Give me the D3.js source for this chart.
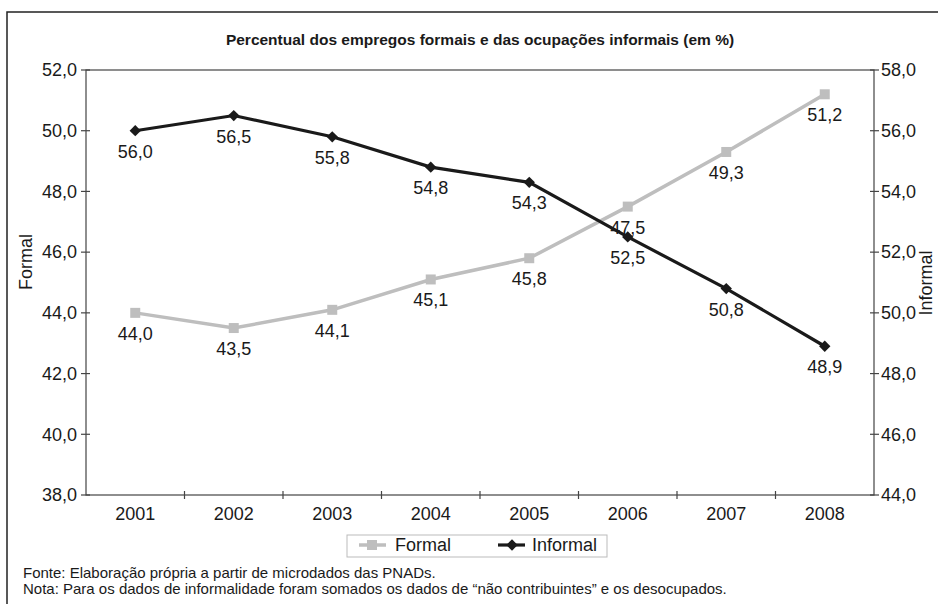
<!DOCTYPE html>
<html>
<head>
<meta charset="utf-8">
<script src="https://cdn.jsdelivr.net/npm/d3@7"></script>
<style>
  body { margin: 0; background: #fff; }
  svg text { font-family: "Liberation Sans", Arial, sans-serif; fill: #1a1a1a; }
</style>
</head>
<body>
<svg id="canvas" width="938" height="604"></svg>
<script>
const width = 938;
const height = 604;

// data
const years = ["2001", "2002", "2003", "2004", "2005", "2006", "2007", "2008"];
const formal = [44.0, 43.5, 44.1, 45.1, 45.8, 47.5, 49.3, 51.2];
const informal = [56.0, 56.5, 55.8, 54.8, 54.3, 52.5, 50.8, 48.9];
const leftTicks = [38, 40, 42, 44, 46, 48, 50, 52];
const rightTicks = [44, 46, 48, 50, 52, 54, 56, 58];

const title = "Percentual dos empregos formais e das ocupações informais (em %)";
const notes = [
    "Fonte: Elaboração própria a partir de microdados das PNADs.",
    "Nota: Para os dados de informalidade foram somados os dados de “não contribuintes” e os desocupados."
];

const svg = d3.select("#canvas");

const plotL = 86, plotR = 874, plotT = 70, plotB = 495;

const x = d3.scaleBand().domain(years).range([plotL, plotR]);
const yL = d3.scaleLinear().domain([38, 52]).range([plotB, plotT]);
const yR = d3.scaleLinear().domain([44, 58]).range([plotB, plotT]);
const cx = d => x(d) + x.bandwidth() / 2;
const fmt = v => d3.format(".1f")(v).replace(".", ",");

const grey = "#bebebe";
const dark = "#1a1a1a";

// outer frame
svg.append("rect")
    .attr("x", 7).attr("y", 12)
    .attr("width", 960).attr("height", 620)
    .attr("fill", "none")
    .attr("stroke", "#222")
    .attr("stroke-width", 1.5);

// title
svg.append("text")
    .attr("x", 480).attr("y", 45)
    .attr("text-anchor", "middle")
    .attr("font-size", 15.5)
    .attr("font-weight", "bold")
    .text(title);

// plot frame
svg.append("rect")
    .attr("x", plotL).attr("y", plotT)
    .attr("width", plotR - plotL).attr("height", plotB - plotT)
    .attr("fill", "none")
    .attr("stroke", "#444")
    .attr("stroke-width", 1.2);

// left axis ticks
svg.selectAll(".lt").data(leftTicks).enter()
    .append("line")
    .attr("x1", plotL - 5).attr("x2", plotL + 4)
    .attr("y1", d => yL(d)).attr("y2", d => yL(d))
    .attr("stroke", "#444").attr("stroke-width", 1.2);

svg.selectAll(".ll").data(leftTicks).enter()
    .append("text")
    .attr("x", 77).attr("y", d => yL(d))
    .attr("dy", "0.35em")
    .attr("text-anchor", "end")
    .attr("font-size", 18)
    .text(fmt);

// right axis ticks
svg.selectAll(".rt").data(rightTicks).enter()
    .append("line")
    .attr("x1", plotR - 4).attr("x2", plotR + 5)
    .attr("y1", d => yR(d)).attr("y2", d => yR(d))
    .attr("stroke", "#444").attr("stroke-width", 1.2);

svg.selectAll(".rl").data(rightTicks).enter()
    .append("text")
    .attr("x", 881).attr("y", d => yR(d))
    .attr("dy", "0.35em")
    .attr("font-size", 18)
    .text(fmt);

// x ticks between categories
svg.selectAll(".xt").data(years.slice(1)).enter()
    .append("line")
    .attr("x1", d => x(d)).attr("x2", d => x(d))
    .attr("y1", plotB - 4).attr("y2", plotB + 4)
    .attr("stroke", "#444").attr("stroke-width", 1.2);

svg.selectAll(".xl").data(years).enter()
    .append("text")
    .attr("x", cx).attr("y", 520)
    .attr("text-anchor", "middle")
    .attr("font-size", 18)
    .text(d => d);

// axis titles
svg.append("text")
    .attr("transform", "translate(32,262) rotate(-90)")
    .attr("text-anchor", "middle")
    .attr("font-size", 18)
    .text("Formal");

svg.append("text")
    .attr("transform", "translate(932,283) rotate(-90)")
    .attr("text-anchor", "middle")
    .attr("font-size", 18)
    .text("Informal");

// lines
const lineF = d3.line().x((d, i) => cx(years[i])).y(d => yL(d));
const lineI = d3.line().x((d, i) => cx(years[i])).y(d => yR(d));

svg.append("path")
    .attr("d", lineF(formal))
    .attr("fill", "none")
    .attr("stroke", grey)
    .attr("stroke-width", 3.5);

svg.append("path")
    .attr("d", lineI(informal))
    .attr("fill", "none")
    .attr("stroke", dark)
    .attr("stroke-width", 3.2);

// markers
const sq = d3.symbol().type(d3.symbolSquare).size(100);
const dia = d3.symbol().type(d3.symbolSquare).size(64);

svg.selectAll(".mf").data(formal).enter()
    .append("path")
    .attr("d", sq)
    .attr("transform", (d, i) => `translate(${cx(years[i])},${yL(d)})`)
    .attr("fill", grey);

svg.selectAll(".mi").data(informal).enter()
    .append("path")
    .attr("d", dia)
    .attr("transform", (d, i) => `translate(${cx(years[i])},${yR(d)}) rotate(45)`)
    .attr("fill", dark);

// value labels
svg.selectAll(".vf").data(formal).enter()
    .append("text")
    .attr("x", (d, i) => cx(years[i]))
    .attr("y", d => yL(d) + 27)
    .attr("text-anchor", "middle")
    .attr("font-size", 18)
    .text(fmt);

svg.selectAll(".vi").data(informal).enter()
    .append("text")
    .attr("x", (d, i) => cx(years[i]))
    .attr("y", d => yR(d) + 27)
    .attr("text-anchor", "middle")
    .attr("font-size", 18)
    .text(fmt);

// legend
const lg = svg.append("g");
lg.append("rect")
    .attr("x", 347).attr("y", 535)
    .attr("width", 260).attr("height", 22)
    .attr("fill", "#fff")
    .attr("stroke", "#bbb");

lg.append("line")
    .attr("x1", 359).attr("x2", 386).attr("y1", 545).attr("y2", 545)
    .attr("stroke", grey).attr("stroke-width", 3.5);
lg.append("path").attr("d", sq).attr("transform", "translate(372,545)").attr("fill", grey);
lg.append("text").attr("x", 395).attr("y", 551).attr("font-size", 18).text("Formal");

lg.append("line")
    .attr("x1", 498).attr("x2", 525).attr("y1", 545).attr("y2", 545)
    .attr("stroke", dark).attr("stroke-width", 3.2);
lg.append("path").attr("d", dia).attr("transform", "translate(512,545) rotate(45)").attr("fill", dark);
lg.append("text").attr("x", 532).attr("y", 551).attr("font-size", 18).text("Informal");

// footnotes
svg.selectAll(".note").data(notes).enter()
    .append("text")
    .attr("x", 23)
    .attr("y", (d, i) => 578 + i * 16)
    .attr("font-size", 15)
    .text(d => d);
</script>
</body>
</html>
